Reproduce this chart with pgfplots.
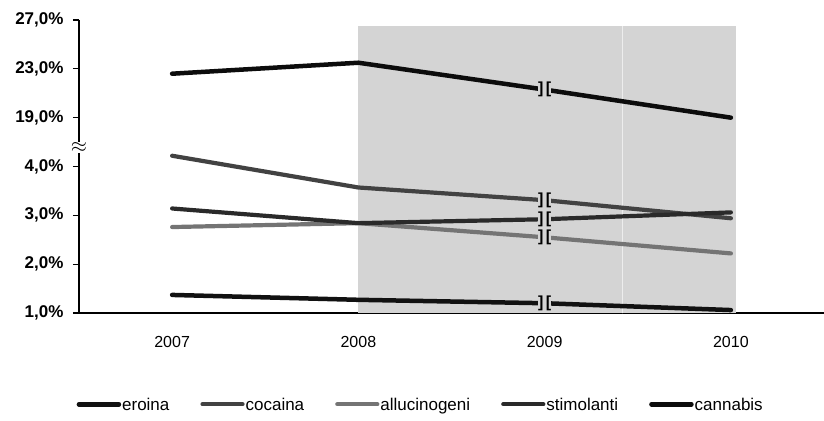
\documentclass[border=0pt]{standalone}
\usepackage{pgfplots}
\pgfplotsset{compat=1.18}
\usepackage{fontspec}
\setmainfont{Liberation Sans}

\definecolor{shade}{HTML}{D4D4D4}
\definecolor{cEro}{HTML}{111111}
\definecolor{cCoc}{HTML}{424242}
\definecolor{cAll}{HTML}{747474}
\definecolor{cSti}{HTML}{2A2A2A}
\definecolor{cCan}{HTML}{0C0C0C}

% upper part of the broken axis: 19% -> 5, 23% -> 6, 27% -> 7
\pgfplotsset{upper/.style={y filter/.expression={5+(y-19)/4}}}

\begin{document}
\begin{tikzpicture}
\begin{axis}[
  scale only axis,
  width=745pt, height=293pt,
  xmin=-0.5, xmax=3.5, ymin=1, ymax=7,
  clip=false,
  axis lines=left,
  axis line style={line width=1.2pt, -},
  tick align=outside,
  xtick={0,1,2,3}, xticklabels={2007,2008,2009,2010},
  major x tick style={draw=none},
  extra x ticks={0.5,1.5,2.5}, extra x tick labels={},
  extra x tick style={major tick length=6pt, tick style={line width=1.2pt, black}},
  xticklabel style={font=\fontsize{16}{16}\selectfont, yshift=-14pt},
  ytick={1,2,3,4,5,6,7},
  yticklabels={{1,0\%},{2,0\%},{3,0\%},{4,0\%},{19,0\%},{23,0\%},{27,0\%}},
  yticklabel style={font=\bfseries\fontsize{17}{17}\selectfont, xshift=-6pt},
  major y tick style={line width=1.2pt, black},
  major tick length=6pt,
  legend columns=5,
  legend style={at={(0.458,-0.315)}, anchor=center, draw=none,
    font=\fontsize{17}{17}\selectfont,
    /tikz/every even column/.append style={column sep=30pt},
    nodes={inner sep=1pt}},
  legend image code/.code={\draw[#1] (0pt,1pt) -- (40pt,1pt);},
  every axis plot/.append style={line cap=round, line join=round},
  brk/.style={only marks, mark=text, text mark={]\hspace{2.5pt}[}, text mark as node=true,
    text mark style={fill=shade, inner sep=0pt, font=\bfseries\fontsize{16}{16}\selectfont},
    forget plot},
]
% shaded period
\addplot[fill=shade, draw=none, forget plot] coordinates {(1,1) (3.025,1) (3.025,6.88) (1,6.88)} -- cycle;
\addplot[white, line width=1pt, opacity=0.6, forget plot] coordinates {(2.42,1) (2.42,6.88)};

\addplot[cEro, line width=4.5pt] coordinates {(0,1.37) (1,1.27) (2,1.20) (3,1.06)};
\addlegendentry{eroina}
\addplot[cCoc, line width=4.2pt] coordinates {(0,4.22) (1,3.57) (2,3.31) (3,2.94)};
\addlegendentry{cocaina}
\addplot[cAll, line width=4.2pt] coordinates {(0,2.76) (1,2.84) (2,2.55) (3,2.22)};
\addlegendentry{allucinogeni}
\addplot[cSti, line width=4.2pt] coordinates {(0,3.14) (1,2.84) (2,2.92) (3,3.06)};
\addlegendentry{stimolanti}
\addplot[cCan, line width=4.5pt, upper] coordinates {(0,22.6) (1,23.5) (2,21.3) (3,19.0)};
\addlegendentry{cannabis}

% break marks on the lines at 2009
\addplot[brk] coordinates {(2,1.20) (2,2.55) (2,2.92) (2,3.31)};
\addplot[brk, upper] coordinates {(2,21.3)};

% axis break symbol
\node[inner sep=0.5pt, fill=white] at (axis cs:-0.5,4.39) {\fontsize{22}{22}\selectfont$\approx$};
\end{axis}
\pgfresetboundingbox
\path ([shift={(-79pt,-108pt)}]current axis.south west) rectangle ([shift={(0pt,20pt)}]current axis.north east);
\end{tikzpicture}
\end{document}
